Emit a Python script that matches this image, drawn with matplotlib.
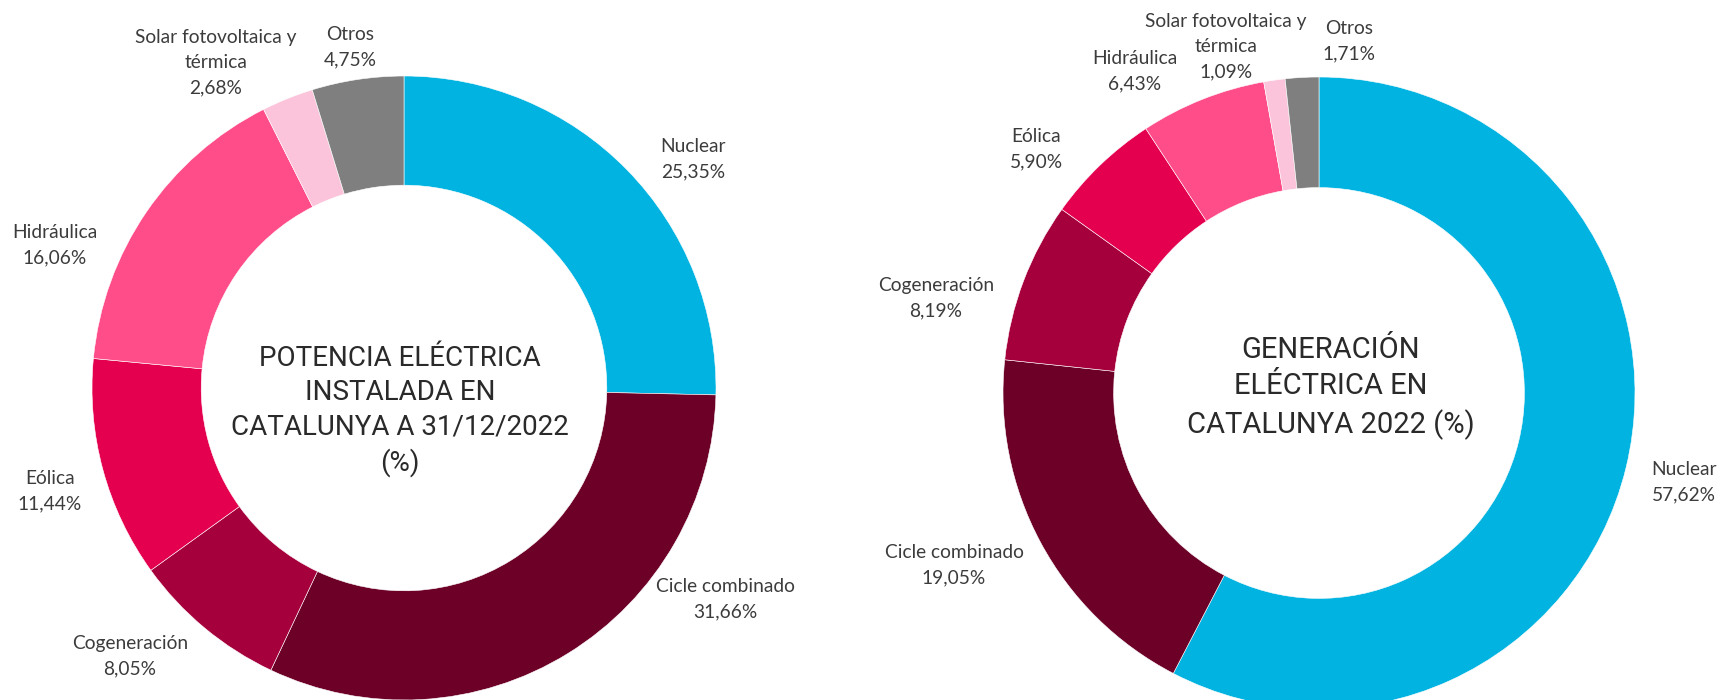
import matplotlib
matplotlib.use("Agg")
import matplotlib.pyplot as plt

categorias = ["Nuclear", "Cicle combinado", "Cogeneración", "Eólica",
              "Hidráulica", "Solar fotovoltaica y\ntérmica", "Otros"]
potencia = [25.35, 31.66, 8.05, 11.44, 16.06, 2.68, 4.75]
generacion = [57.62, 19.05, 8.19, 5.90, 6.43, 1.09, 1.71]
colores = ["#00B3E0", "#6C0027", "#A6003C", "#E4004F", "#FF4D8A", "#FBC4DA", "#7F7F7F"]

titulo_pot = "POTENCIA ELÉCTRICA\nINSTALADA EN\nCATALUNYA A 31/12/2022\n(%)"
titulo_gen = "GENERACIÓN\nELÉCTRICA EN\nCATALUNYA 2022 (%)"

W, H = 1719, 700
fig = plt.figure(figsize=(W / 100, H / 100), dpi=100)

# label centres in pixels, measured from top-left
pos_pot = [(693, 159), (725, 599), (130, 656), (50, 491), (55, 245), (216, 63), (350, 47)]
pos_gen = [(1684, 482), (954, 565), (936, 298), (1036, 149), (1135, 71), (1226, 47), (1349, 41)]
paso = 25  # px between label lines

fuente_titulo = ["Roboto", "DejaVu Sans"]
fuente_etiq = ["Lato", "DejaVu Sans"]


def donut(cx, cy, r, valores, titulo, tx, ty, tsize, posiciones):
    ax = fig.add_axes([(cx - r) / W, (H - cy - r) / H, 2 * r / W, 2 * r / H])
    ax.pie(valores, colors=colores, startangle=90, counterclock=False,
           radius=1, wedgeprops=dict(width=0.35, edgecolor="white", linewidth=0.4))
    ax.set_xlim(-1, 1)
    ax.set_ylim(-1, 1)
    ax.set_aspect("equal")
    ax.axis("off")
    for p in ax.patches:
        p.set_clip_on(False)
    fig.text(tx / W, 1 - ty / H, titulo, ha="center", va="center", fontsize=tsize,
             family=fuente_titulo, fontweight="normal", color="#2a2a2a", linespacing=1.36)
    for cat, v, (x, y) in zip(categorias, valores, posiciones):
        lineas = f"{cat}\n{v:.2f}%".replace(".", ",").split("\n")
        n = len(lineas)
        for i, linea in enumerate(lineas):
            yi = y + (i - (n - 1) / 2) * paso
            fig.text(x / W, 1 - yi / H, linea, ha="center", va="center",
                     fontsize=13.8, family=fuente_etiq, color="#3c3c3c")


donut(404, 388, 312, potencia, titulo_pot, 400, 411, 20, pos_pot)
donut(1319, 393, 316, generacion, titulo_gen, 1331, 388, 21, pos_gen)

fig.savefig("out.png", dpi=100)
